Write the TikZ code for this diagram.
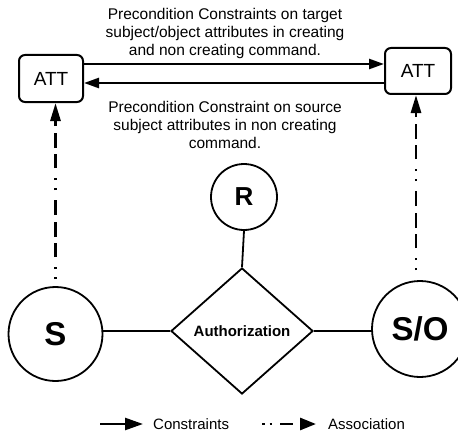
\documentclass[tikz,border=0pt]{standalone}
\usepackage{fontspec}
\setmainfont{Liberation Sans}
\usetikzlibrary{arrows.meta,shapes.geometric}
\newcommand\captxt{\fontsize{15.5}{18}\selectfont}
\begin{document}
\begin{tikzpicture}[x=1pt,y=-1pt,
  attbox/.style={draw, line width=2pt, rounded corners=6pt, minimum width=64pt, minimum height=47pt, inner sep=0pt, font=\fontsize{19}{22}\selectfont},
  ent/.style={draw, circle, line width=1.8pt, inner sep=0pt, font=\bfseries\fontsize{33}{36}\selectfont},
  rel/.style={draw, diamond, line width=1.8pt, inner sep=0pt, minimum width=142pt, minimum height=126pt, font=\bfseries\fontsize{15}{18}\selectfont},
  link/.style={line width=1.8pt},
  conarrow/.style={line width=2.5pt, -{Triangle[length=15pt,width=10pt]}},
  legcon/.style={line width=2.5pt, -{Triangle[length=18pt,width=12pt]}},
  assoc/.style={line width=2.8pt, dash pattern=on 2pt off 8pt on 2pt off 10pt on 14pt off 6pt on 15pt off 7pt on 15pt off 10pt, -{Triangle[length=18pt,width=10pt]}},
  legassoc/.style={line width=2.8pt, dash pattern=on 2.5pt off 5pt on 2.5pt off 8pt on 13pt off 7pt, -{Triangle[length=16pt,width=12pt]}},
  caption/.style={align=center, inner sep=0pt, font=\captxt},
  legtext/.style={anchor=west, inner sep=0pt, font=\fontsize{15}{18}\selectfont}
]
\useasboundingbox (0,0) rectangle (458,436);
\fill[white] (0,0) rectangle (458,436);

% nodes
\node[attbox] (attL) at (51,78.5) {ATT};
\node[attbox, minimum width=66pt, minimum height=46pt] (attR) at (418,71) {ATT};
\node[ent, minimum size=94pt] (S) at (55.5,334) {S};
\node[ent, minimum size=96pt] (SO) at (420,329) {S/O};
\node[ent, minimum size=66pt, font=\bfseries\fontsize{26}{30}\selectfont] (R) at (244,197) {R};
\node[rel] (auth) at (242,331) {Authorization};

% captions
\node[caption] (captop) at (225,33) {Precondition Constraints on target\\subject/object attributes in creating\\and non creating command.};
\node[caption] (capbot) at (225,125) {Precondition Constraint on source\\subject attributes in non creating\\command.};

% constraint arrows
\draw[conarrow] ([yshift=14.5pt]attL.east) -- ([yshift=14.5pt]attL.east -| attR.west);
\draw[conarrow] ([yshift=-12pt]attR.west) -- ([yshift=-12pt]attR.west -| attL.east);

% association arrows
\draw[assoc, dash phase=82pt] (S.north) -- (S.north |- attL.south);
\draw[assoc, dash phase=79pt] ([xshift=-4pt]SO.north) -- ([xshift=-4pt]SO.north |- attR.south);

% relationship links
\draw[link] (auth.west) -- (auth.west -| S.east);
\draw[link] (auth.east) -- (auth.east -| SO.west);
\draw[link] (R.south) -- (auth.north);

% legend
\coordinate (c1) at (100,424);
\coordinate (c2) at (143,424);
\draw[legcon] (c1) -- (c2);
\node[legtext] (lc) at (153,424) {Constraints};
\coordinate (a1) at (262,424);
\coordinate (a2) at (316,424);
\draw[legassoc] (a1) -- (a2);
\node[legtext] (la) at (328,424) {Association};
\end{tikzpicture}
\end{document}
